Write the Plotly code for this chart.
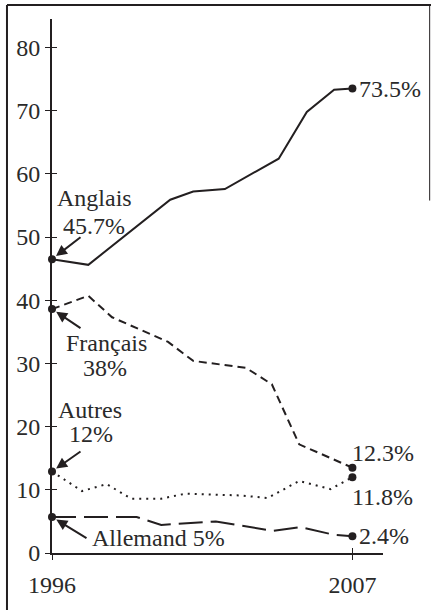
import plotly.graph_objects as go

# ---- data ----
anglais_years = [1996, 1997.33, 2000.33, 2001.17, 2002.33, 2004.3, 2005.33, 2006.33, 2007]
anglais_vals = [46.5, 45.6, 55.9, 57.2, 57.6, 62.4, 69.8, 73.3, 73.5]

francais_years = [1996, 1997.33, 1998.2, 2000.25, 2001.17, 2003.1, 2004.05, 2005.05, 2007]
francais_vals = [38.6, 40.7, 37.3, 33.4, 30.4, 29.3, 26.7, 17.2, 13.5]

autres_years = [1996, 1997.1, 1998.0, 1998.9, 2000.0, 2000.9, 2002.9, 2003.9, 2005.05, 2006.2, 2007]
autres_vals = [12.9, 9.8, 10.9, 8.6, 8.6, 9.4, 9.1, 8.7, 11.4, 10.1, 12.0]

allemand_years = [1996, 1999.1, 2000.0, 2002.0, 2004.1, 2005.1, 2006.3, 2007]
allemand_vals = [5.7, 5.7, 4.45, 5.0, 3.5, 4.1, 2.9, 2.65]

y_ticks = [0, 10, 20, 30, 40, 50, 60, 70, 80]
x_ticks = [1996, 2007]
x_tick_labels = ["1996", "2007"]

INK = "#231f20"
TXT = "#2a2a2a"
FONT = "Liberation Serif"
FS = 24

fig = go.Figure()

series = [
    (anglais_years, anglais_vals, "solid"),
    (francais_years, francais_vals, "8px,5px"),
    (autres_years, autres_vals, "2px,5px"),
    (allemand_years, allemand_vals, "24px,8px"),
]
for xs, ys, dash in series:
    fig.add_trace(go.Scatter(x=xs, y=ys, mode="lines",
                             line=dict(color=INK, width=2, dash=dash),
                             cliponaxis=False, showlegend=False, hoverinfo="skip"))
    fig.add_trace(go.Scatter(x=[xs[0], xs[-1]], y=[ys[0], ys[-1]], mode="markers",
                             marker=dict(color=INK, size=8),
                             cliponaxis=False, showlegend=False, hoverinfo="skip"))

# dummy trace to create overlay axes (inner half of crossing ticks)
fig.add_trace(go.Scatter(x=[None], y=[None], xaxis="x2", yaxis="y2",
                         showlegend=False, hoverinfo="skip"))

XR = [1996, 2008.12]
YR = [0, 84.5]

fig.update_layout(
    width=431, height=610,
    margin=dict(l=52, r=48, t=19, b=49),
    paper_bgcolor="white", plot_bgcolor="white",
    font=dict(family=FONT, size=FS, color=TXT),
    xaxis=dict(range=XR, tickvals=x_ticks, ticktext=x_tick_labels,
               showgrid=False, zeroline=False, showline=True, linecolor=INK, linewidth=2,
               ticks="outside", ticklen=5, tickwidth=1, tickcolor=INK,
               ticklabelstandoff=4,
               tickfont=dict(family=FONT, size=FS, color=TXT)),
    yaxis=dict(range=YR, tickvals=y_ticks,
               showgrid=False, zeroline=False, showline=True, linecolor=INK, linewidth=2,
               ticks="outside", ticklen=5, tickwidth=1, tickcolor=INK,
               ticklabelstandoff=0,
               tickfont=dict(family=FONT, size=FS, color=TXT)),
    xaxis2=dict(range=XR, overlaying="x", anchor="y", side="bottom", tickvals=x_ticks,
                showticklabels=False, showgrid=False, zeroline=False, showline=False,
                ticks="inside", ticklen=5, tickwidth=1, tickcolor=INK),
    yaxis2=dict(range=YR, overlaying="y", anchor="x", side="left", tickvals=y_ticks,
                showticklabels=False, showgrid=False, zeroline=False, showline=False,
                ticks="inside", ticklen=5, tickwidth=1, tickcolor=INK),
)

# frame around the figure (left, top, short right)
fig.add_shape(type="line", xref="paper", yref="paper", x0=-0.136, x1=-0.136, y0=1.026, y1=-0.2,
              line=dict(color=INK, width=2))
fig.add_shape(type="line", xref="paper", yref="paper", x0=-0.136, x1=1.145, y0=1.026, y1=1.026,
              line=dict(color=INK, width=2))
fig.add_shape(type="line", xref="paper", yref="paper", x0=1.141, x1=1.141, y0=1.026, y1=0.66,
              line=dict(color=INK, width=1))

def label(text, x, y, xanchor="center"):
    fig.add_annotation(text=text, x=x, y=y, xref="x", yref="y", showarrow=False,
                       xanchor=xanchor, yanchor="middle",
                       font=dict(family=FONT, size=FS, color=TXT))

def arrow(x, y, ax, ay):
    fig.add_annotation(text="", x=x, y=y, xref="x", yref="y", showarrow=True,
                       ax=ax, ay=ay, arrowhead=2, arrowsize=1.1, arrowwidth=2,
                       arrowcolor=INK, standoff=5)

label("Anglais", 1997.55, 56.1)
label("45.7%", 1997.55, 51.8)
label("Français", 1997.98, 33.2)
label("38%", 1997.94, 29.2)
label("Autres", 1997.39, 22.6)
label("12%", 1997.43, 18.9)
label("Allemand 5%", 1997.39, 2.4, "left")
label("73.5%", 2007.17, 73.4, "left")
label("12.3%", 2006.92, 15.9, "left")
label("11.8%", 2006.92, 8.8, "left")
label("2.4%", 2007.17, 2.7, "left")

arrow(anglais_years[0], anglais_vals[0], 30, -23)
arrow(francais_years[0], francais_vals[0], 30, 20)
arrow(autres_years[0], autres_vals[0], 30, -21)
arrow(allemand_years[0], allemand_vals[0], 36, 22)

fig.write_html("out.html",
               config={"displayModeBar": False},
               post_script="document.body.style.margin='0';document.body.style.overflow='hidden';")
